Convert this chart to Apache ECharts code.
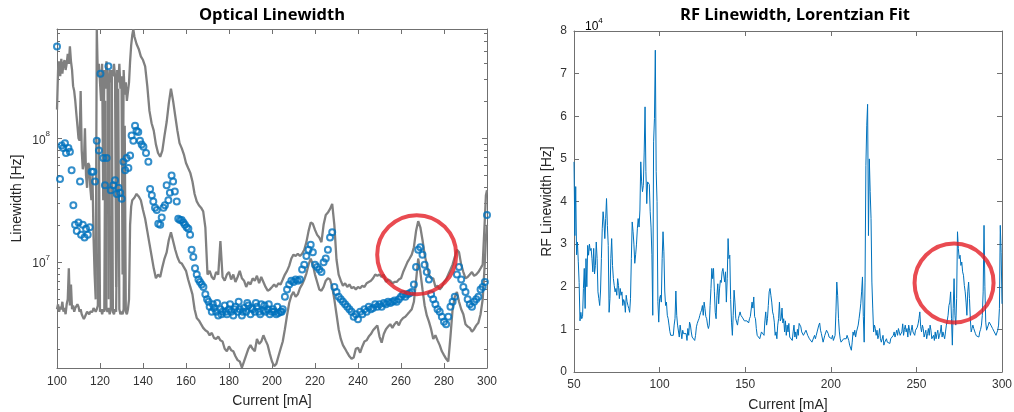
<!DOCTYPE html>
<html>
<head>
<meta charset="utf-8">
<title>Optical and RF Linewidth</title>
<script src="https://cdn.jsdelivr.net/npm/echarts@6/dist/echarts.min.js"></script>
<style>
  html, body { margin: 0; padding: 0; background: #ffffff; }
  #chart { width: 1014px; height: 412px; }
</style>
</head>
<body>
<div id="chart"></div>
<script>
// ---------------------------------------------------------------
// Optical linewidth vs. drive current (Hz, log scale)
// ---------------------------------------------------------------
// Current grid shared by the upper and lower envelope traces (mA)
const boundCurrent = [
  100, 100.5, 101, 101.5, 102, 102.5, 103, 103.5, 104, 104.5,
  105, 105.5, 106, 106.5, 107, 107.5, 108, 108.5, 109, 109.5,
  110, 110.5, 111, 111.5, 112, 112.5, 113, 113.5, 114, 114.5,
  115, 115.5, 116, 116.5, 117, 117.5, 118, 118.5, 119, 119.5,
  120, 120.5, 121, 121.5, 122, 122.5, 123, 123.5, 124, 124.5,
  125, 125.5, 126, 126.5, 127, 127.5, 128, 128.5, 129, 129.5,
  130, 130.5, 131, 131.5, 132, 132.5, 133, 133.5, 134, 134.5,
  135, 135.5, 136,
  137, 138, 139, 140, 141, 142, 143, 144, 145, 146,
  147, 148, 149, 150, 151, 152, 153, 154, 155, 156,
  157, 158, 159, 160, 161, 162, 163, 164, 165, 166,
  167, 168, 169, 170, 171, 172, 173, 174, 175, 176,
  177, 178, 179, 180, 181, 182, 183, 184, 185, 186,
  187, 188, 189, 190, 191, 192, 193, 194, 195, 196,
  197, 198, 199, 200, 201, 202, 203, 204, 205, 206,
  207, 208, 209, 210, 211, 212, 213, 214, 215, 216,
  217, 218, 219, 220, 221, 222, 223, 224, 225, 226,
  227, 228, 229, 230, 231, 232, 233, 234, 235, 236,
  237, 238, 239, 240, 241, 242, 243, 244, 245, 246,
  247, 248, 249, 250, 251, 252, 253, 254, 255, 256,
  257, 258, 259, 260, 261, 262, 263, 264, 265, 266,
  267, 268, 269, 270, 271, 272, 273, 274, 275, 276,
  277, 278, 279, 280, 281, 282, 283, 284, 285, 286,
  287, 288, 289, 290, 291, 292, 293, 294, 295, 296,
  297, 298, 299, 299.5, 300
];

// Upper envelope (Hz)
const upperHz = [
  1.7e8, 3.55e8, 4.17e8, 3.16e8, 4.37e8, 3.31e8, 3.98e8, 4.27e8, 3.55e8, 3.98e8,
  4.79e8, 3.98e8, 5.5e8, 4.17e8, 3.55e8, 2.63e8, 2.4e8, 2.0e8, 1.58e8, 1.26e8,
  1.0e8, 9.55e7, 2.4e8, 7.94e7, 5.62e7, 6.31e7, 1.2e8, 5.01e7, 3.98e7, 6.31e7,
  6.03e7, 3.98e7, 3.16e7, 5.01e7, 1.58e7, 7.94e6, 5.01e6, 7.59e8, 3.16e8, 3.98e8,
  2.82e8, 2.0e8, 3.98e8, 3.16e7, 3.55e8, 2.51e8, 4.17e8, 3.16e8, 5.01e6, 3.55e8,
  2.82e8, 3.55e8, 3.16e8, 3.98e8, 3.16e8, 6.31e6, 3.55e8, 2.82e8, 3.98e8, 2.51e8,
  3.16e8, 7.94e6, 3.55e8, 2.24e8, 2.82e8, 2.0e8, 2.0e8, 2.82e8, 4.17e8, 5.62e8,
  6.76e8, 7.59e8, 6.61e8,
  5.75e8, 5.25e8, 4.57e8, 4.27e8, 3.8e8, 2.63e8, 1.66e8, 1.32e8, 1.15e8, 8.91e7,
  7.59e7, 7.08e7, 7.94e7, 1.05e8, 1.35e8, 1.91e8, 2.51e8, 2.0e8, 1.51e8, 1.15e8,
  9.12e7, 8.32e7, 7.41e7, 6.31e7, 5.75e7, 5.25e7, 4.47e7, 3.55e7, 3.09e7, 2.88e7,
  2.75e7, 2.57e7, 1.91e7, 7.94e6, 8.51e6, 7.59e6, 7.24e6, 8.32e6, 7.94e6, 1.48e7,
  7.59e6, 7.08e6, 7.94e6, 8.32e6, 7.24e6, 7.94e6, 6.92e6, 7.59e6, 8.51e6, 7.41e6,
  7.08e6, 6.31e6, 6.92e6, 6.61e6, 7.41e6, 7.08e6, 7.76e6, 6.76e6, 7.59e6, 6.92e6,
  6.31e6, 5.89e6, 6.03e6, 6.31e6, 6.61e6, 6.31e6, 6.76e6, 6.61e6, 7.24e6, 7.94e6,
  8.51e6, 9.33e6, 1.07e7, 1.15e7, 1.12e7, 1.17e7, 1.12e7, 1.17e7, 1.26e7, 1.45e7,
  1.78e7, 2.09e7, 2.04e7, 1.82e7, 1.66e7, 1.58e7, 1.45e7, 2.0e7, 2.4e7, 2.51e7,
  2.69e7, 2.95e7, 2.0e7, 1.05e7, 7.94e6, 7.08e6, 6.46e6, 6.76e6, 6.31e6, 6.61e6,
  6.17e6, 6.31e6, 6.03e6, 6.31e6, 6.17e6, 6.46e6, 6.31e6, 6.76e6, 6.92e6, 7.08e6,
  7.41e6, 7.94e6, 7.76e6, 7.94e6, 7.59e6, 7.94e6, 6.92e6, 7.24e6, 7.08e6, 6.76e6,
  6.92e6, 6.92e6, 7.24e6, 7.41e6, 8.32e6, 9.12e6, 1.0e7, 1.07e7, 1.15e7, 1.32e7,
  1.78e7, 2.14e7, 1.91e7, 1.51e7, 1.15e7, 9.55e6, 7.94e6, 7.41e6, 7.41e6, 6.31e6,
  6.46e6, 6.03e6, 6.31e6, 6.92e6, 7.24e6, 7.94e6, 8.71e6, 9.55e6, 1.1e7, 1.26e7,
  1.2e7, 9.55e6, 8.32e6, 7.41e6, 7.59e6, 7.94e6, 8.32e6, 7.76e6, 7.94e6, 8.32e6,
  8.91e6, 9.55e6, 2.24e7, 3.47e7, 3.8e7
];

// Lower envelope (Hz)
const lowerHz = [
  4.17e6, 4.57e6, 3.98e6, 4.37e6, 4.17e6, 4.79e6, 3.98e6, 4.27e6, 3.8e6, 4.57e6,
  5.01e6, 8.91e6, 4.47e6, 6.61e6, 4.17e6, 4.47e6, 3.98e6, 4.27e6, 4.17e6, 4.57e6,
  4.37e6, 3.98e6, 4.17e6, 3.8e6, 3.63e6, 3.47e6, 3.63e6, 3.8e6, 3.98e6, 3.89e6,
  3.8e6, 3.98e6, 4.07e6, 3.98e6, 4.27e6, 4.17e6, 3.98e6, 4.17e6, 4.47e6, 1.0e8,
  3.98e6, 4.17e6, 3.8e6, 4.17e6, 3.98e6, 2.0e8, 4.17e6, 3.98e6, 4.27e6, 3.8e6,
  4.17e6, 3.16e8, 3.98e6, 3.8e6, 4.17e6, 3.98e6, 4.07e6, 2.51e8, 4.17e6, 3.8e6,
  3.98e6, 3.8e6, 4.17e6, 1.26e8, 3.98e6, 3.8e6, 4.17e6, 5.01e6, 2.0e7, 2.82e7,
  3.16e7, 3.24e7, 3.31e7,
  3.55e7, 3.39e7, 3.16e7, 2.63e7, 2.24e7, 1.78e7, 1.41e7, 1.12e7, 8.91e6, 7.41e6,
  7.94e6, 7.59e6, 9.12e6, 1.07e7, 1.2e7, 1.51e7, 1.74e7, 1.48e7, 1.26e7, 1.1e7,
  1.0e7, 9.77e6, 9.12e6, 8.51e6, 7.24e6, 6.31e6, 5.5e6, 4.17e6, 3.55e6, 3.39e6,
  3.16e6, 2.95e6, 2.82e6, 2.75e6, 2.57e6, 2.69e6, 2.45e6, 2.4e6, 2.51e6, 2.34e6,
  2.29e6, 2.0e6, 1.91e6, 2.09e6, 1.95e6, 1.91e6, 1.74e6, 1.62e6, 1.58e6, 1.41e6,
  1.58e6, 1.78e6, 2.0e6, 2.14e6, 2.0e6, 1.91e6, 2.4e6, 2.19e6, 2.29e6, 2.57e6,
  2.34e6, 2.14e6, 1.82e6, 1.58e6, 1.45e6, 1.51e6, 1.74e6, 2.0e6, 2.29e6, 2.88e6,
  3.72e6, 4.68e6, 5.37e6, 5.75e6, 5.25e6, 5.5e6, 6.17e6, 6.61e6, 7.24e6, 8.13e6,
  9.55e6, 1.07e7, 9.55e6, 7.94e6, 6.92e6, 6.03e6, 5.89e6, 6.31e6, 7.08e6, 7.41e6,
  7.24e6, 6.31e6, 5.01e6, 3.8e6, 2.88e6, 2.4e6, 2.14e6, 2.0e6, 1.86e6, 1.74e6,
  1.66e6, 1.7e6, 2.0e6, 2.04e6, 1.86e6, 2.09e6, 2.29e6, 2.34e6, 2.51e6, 2.63e6,
  2.82e6, 2.95e6, 3.09e6, 2.51e6, 2.24e6, 2.63e6, 2.88e6, 3.02e6, 3.16e6, 2.95e6,
  3.16e6, 3.31e6, 3.09e6, 3.39e6, 3.55e6, 3.63e6, 3.8e6, 3.98e6, 4.17e6, 4.79e6,
  7.08e6, 1.07e7, 8.32e6, 6.03e6, 4.47e6, 3.72e6, 3.31e6, 2.88e6, 2.4e6, 2.57e6,
  2.34e6, 2.14e6, 1.91e6, 1.78e6, 1.66e6, 1.58e6, 2.51e6, 4.17e6, 5.25e6, 5.75e6,
  4.79e6, 4.17e6, 3.8e6, 3.16e6, 3.02e6, 2.95e6, 2.75e6, 2.88e6, 3.09e6, 3.24e6,
  3.8e6, 5.01e6, 1.0e7, 1.58e7, 2.0e7
];

// Measured optical linewidth: [current mA, linewidth Hz]
const opticalPoints = [
  [100, 5.5e8], [101.4, 4.68e7], [102.2, 8.71e7], [102.9, 8.32e7], [103.7, 9.12e7],
  [104.2, 7.59e7], [105.3, 8.32e7], [106, 7.76e7], [106.8, 5.5e7], [107.6, 2.88e7],
  [108.4, 2.0e7], [109.2, 1.78e7], [110, 2.09e7], [110.7, 4.47e7], [111.2, 1.66e7],
  [112, 2.0e7], [112.8, 1.58e7], [113.5, 1.86e7], [114.3, 1.66e7], [115.2, 1.91e7],
  [116.1, 5.37e7], [116.9, 5.37e7], [117.7, 4.47e7], [118.5, 9.55e7], [119.5, 7.94e7],
  [120.2, 3.31e8], [121.5, 6.92e7], [122.3, 4.17e7], [123.1, 6.92e7], [123.9, 3.8e8],
  [125, 3.8e7], [126.2, 4.17e7], [127, 4.57e7], [127.8, 3.55e7], [128.6, 3.98e7],
  [129.4, 3.63e7], [130.1, 3.24e7], [130.9, 6.46e7], [131.7, 5.5e7], [132.4, 6.92e7],
  [133.2, 5.75e7], [134, 7.24e7], [134.7, 1.05e8], [135.5, 9.55e7], [136.3, 1.26e8],
  [137, 1.15e8], [137.8, 1.12e8], [138.6, 9.55e7], [139.4, 8.91e7], [140.2, 8.51e7],
  [141.4, 7.59e7], [142.5, 6.46e7], [143.3, 3.89e7], [144.1, 3.47e7], [144.8, 3.09e7],
  [145.6, 2.75e7], [146.4, 2.63e7], [147.1, 2.04e7], [148, 2.0e7], [148.7, 2.29e7],
  [149.5, 2.75e7], [150.2, 2.88e7], [151, 4.17e7], [151.8, 3.16e7], [152.5, 3.63e7],
  [153.3, 5.01e7], [154, 4.47e7], [154.8, 3.72e7], [155.7, 3.09e7], [156.4, 2.24e7],
  [157.2, 2.19e7], [158, 2.19e7], [158.8, 2.09e7], [159.5, 2.0e7], [160.3, 1.91e7],
  [161.1, 1.86e7], [161.9, 1.66e7], [162.6, 1.26e7], [163.4, 1.1e7], [164.2, 8.91e6],
  [165, 7.94e6], [165.8, 7.24e6], [166.5, 6.92e6], [167.3, 6.61e6], [168.1, 6.31e6],
  [169, 5.5e6], [169.8, 5.01e6], [170.5, 4.79e6], [171, 4.37e6], [172, 3.98e6],
  [172.5, 4.57e6], [173, 4.27e6], [174, 3.98e6], [174.5, 4.68e6], [175, 3.72e6],
  [176, 4.17e6], [176.5, 3.8e6], [177, 3.98e6], [178, 4.47e6], [178.5, 3.98e6],
  [179, 3.8e6], [180, 4.17e6], [180.5, 4.57e6], [181, 3.98e6], [182, 3.72e6],
  [182.5, 4.17e6], [183, 4.37e6], [184, 3.98e6], [184.5, 4.79e6], [185, 4.17e6],
  [186, 3.72e6], [186.5, 3.98e6], [187, 4.27e6], [188, 3.98e6], [188.5, 4.68e6],
  [189, 4.47e6], [190, 3.8e6], [190.5, 4.27e6], [191, 4.17e6], [192, 3.98e6],
  [192.5, 4.68e6], [193, 4.37e6], [194, 3.98e6], [194.5, 3.8e6], [195, 4.57e6],
  [196, 4.07e6], [196.5, 4.47e6], [197, 3.98e6], [198, 4.17e6], [198.5, 4.57e6],
  [199, 3.8e6], [200, 3.98e6], [200.5, 4.17e6], [201, 3.98e6], [202, 3.8e6],
  [202.5, 4.37e6], [203, 3.89e6], [204, 3.98e6], [204.5, 3.98e6], [205, 4.17e6],
  [206, 5.25e6], [207, 6.03e6], [208, 6.61e6], [209, 7.08e6], [210, 6.92e6],
  [211, 7.24e6], [212, 7.08e6], [213, 7.24e6], [214, 8.71e6], [215, 9.55e6],
  [216, 1.12e7], [217, 1.26e7], [218, 1.38e7], [219, 1.2e7], [220, 9.55e6],
  [221, 9.12e6], [222, 8.71e6], [223, 8.32e6], [224, 1.0e7], [225, 1.07e7],
  [226, 1.26e7], [227, 1.58e7], [228, 1.74e7], [229, 6.31e6], [230, 5.75e6],
  [231, 5.25e6], [232, 5.01e6], [233, 4.79e6], [234, 4.57e6], [235, 4.37e6],
  [236, 4.17e6], [237, 3.98e6], [238, 3.63e6], [239, 3.8e6], [240, 3.47e6],
  [241, 3.98e6], [242, 3.8e6], [243, 4.17e6], [244, 3.98e6], [245, 4.37e6],
  [246, 4.17e6], [247, 4.27e6], [248, 4.57e6], [249, 4.37e6], [250, 4.57e6],
  [251, 4.37e6], [252, 4.68e6], [253, 4.57e6], [254, 4.79e6], [255, 4.68e6],
  [256, 4.79e6], [257, 4.9e6], [258, 4.79e6], [259, 5.01e6], [260, 5.25e6],
  [261, 5.5e6], [262, 5.25e6], [263, 5.5e6], [264, 5.62e6], [265, 5.75e6],
  [266, 6.61e6], [267, 9.12e6], [268, 1.26e7], [269, 1.32e7], [270, 1.15e7],
  [271, 9.55e6], [272, 8.32e6], [273, 7.24e6], [274, 5.5e6], [275, 5.01e6],
  [276, 4.57e6], [277, 4.17e6], [278, 3.98e6], [279, 3.63e6], [280, 3.31e6],
  [281, 3.16e6], [282, 3.63e6], [283, 4.37e6], [284, 4.79e6], [285, 5.25e6],
  [286, 7.94e6], [287, 9.12e6], [288, 7.24e6], [289, 6.31e6], [290, 5.75e6],
  [291, 5.01e6], [292, 4.57e6], [293, 4.37e6], [294, 4.79e6], [295, 5.01e6],
  [296, 5.25e6], [297, 6.03e6], [298, 6.31e6], [299, 6.92e6], [300, 2.4e7]
];

// Log-axis limits and tick values (Hz)
const opticalRange = [1.4e6, 7.6e8];
const opticalMajorTicks = [1e7, 1e8];
const opticalMinorTicks = [
  2e6, 3e6, 4e6, 5e6, 6e6, 7e6, 8e6, 9e6,
  2e7, 3e7, 4e7, 5e7, 6e7, 7e7, 8e7, 9e7,
  2e8, 3e8, 4e8, 5e8, 6e8, 7e8
];

// ---------------------------------------------------------------
// RF linewidth, Lorentzian fit (units of 1e4 Hz), one value per 0.5 mA from 50 mA
// ---------------------------------------------------------------
const rfStartCurrent = 50;
const rfCurrentStep = 0.5;
const rfLinewidth = [
  4.93, 3.2, 4.35, 2.75, 3.05, 2.6, 2.1, 1.2, 1.4, 1.25,
  1.3, 1.96, 2.43, 1.49, 2.66, 2.0, 2.97, 2.74, 3.0, 2.85,
  2.9, 2.66, 2.35, 2.9, 2.3, 2.5, 3.05, 2.66, 1.88, 1.72,
  1.56, 1.9, 2.66, 3.36, 3.76, 3.52, 3.13, 3.6, 4.07, 3.44,
  2.97, 1.4, 1.72, 2.66, 3.13, 2.5, 2.19, 2.03, 1.88, 1.96,
  1.8, 2.19, 2.03, 1.72, 1.96, 1.8, 1.88, 1.56, 1.7, 1.64,
  1.4, 1.8, 1.65, 1.56, 1.49, 1.4, 1.72, 2.66, 3.52, 3.29,
  3.0, 2.55, 2.75, 3.0, 3.36, 3.6, 3.4, 3.8, 4.93, 4.46,
  4.23, 4.38, 5.16, 6.22, 4.7, 3.95, 4.46, 4.5, 4.4, 3.76,
  3.4, 2.75, 1.33, 5.4, 5.95, 7.55, 4.7, 4.0, 1.65, 1.17,
  1.72, 1.8, 1.64, 2.66, 3.29, 2.82, 1.9, 1.56, 1.64, 1.33,
  1.25, 1.1, 0.95, 0.86, 0.82, 0.85, 0.86, 1.1, 1.25, 1.9,
  1.33, 1.1, 1.14, 0.82, 1.1, 1.06, 0.78, 0.98, 0.9, 0.88,
  0.86, 0.9, 0.74, 1.02, 0.86, 1.17, 1.1, 0.94, 0.82, 0.78,
  0.8, 0.74, 0.86, 1.06, 1.14, 1.2, 1.25, 1.33, 1.4, 1.45,
  1.56, 1.33, 1.64, 1.49, 1.3, 1.25, 1.1, 1.02, 1.1, 1.56,
  1.96, 2.43, 2.19, 2.43, 1.88, 1.4, 1.25, 1.8, 2.07, 1.6,
  1.95, 2.15, 2.1, 2.35, 2.43, 2.39, 2.11, 2.35, 1.64, 2.19,
  3.13, 2.66, 2.74, 1.7, 1.17, 0.86, 1.33, 1.92, 1.64, 1.25,
  1.17, 1.1, 1.25, 1.33, 1.41, 1.33, 1.29, 1.27, 1.25, 1.2,
  1.17, 1.21, 1.2, 1.17, 1.15, 1.25, 1.3, 1.33, 1.64, 1.5,
  1.76, 1.3, 1.25, 1.02, 0.86, 0.82, 0.86, 0.78, 0.74, 0.94,
  0.94, 0.98, 0.86, 1.2, 1.41, 1.1, 1.25, 1.56, 1.88, 1.96,
  1.8, 1.64, 1.41, 1.33, 1.17, 0.86, 0.94, 0.78, 1.1, 1.25,
  1.64, 1.2, 1.25, 1.5, 1.15, 1.25, 0.94, 1.2, 0.86, 1.1,
  0.94, 1.14, 0.82, 0.78, 0.86, 0.74, 0.94, 1.1, 0.82, 0.94,
  0.78, 1.0, 0.86, 1.14, 1.17, 1.06, 0.94, 0.94, 0.86, 0.88,
  0.9, 0.98, 1.02, 0.86, 0.86, 0.78, 0.8, 0.74, 0.7, 0.74,
  0.74, 0.86, 0.78, 0.86, 0.94, 0.94, 1.1, 1.15, 0.98, 0.9,
  0.86, 0.7, 0.74, 0.86, 0.82, 0.98, 1.02, 0.9, 0.82, 0.86,
  0.86, 0.78, 0.86, 0.74, 0.78, 0.86, 1.41, 2.11, 1.8, 1.25,
  0.94, 0.78, 0.7, 0.74, 0.7, 0.78, 0.76, 0.74, 0.78, 0.86,
  0.86, 0.74, 0.63, 0.6, 0.51, 0.7, 0.94, 0.86, 0.98, 0.82,
  0.94, 0.94, 1.1, 1.25, 1.41, 1.6, 1.88, 2.23, 1.3, 0.7,
  2.11, 4.85, 5.79, 6.28, 3.2, 5.0, 4.23, 3.6, 2.11, 1.5,
  0.94, 1.1, 1.02, 0.86, 0.98, 0.78, 0.86, 1.02, 0.78, 0.7,
  0.7, 0.86, 0.63, 0.7, 0.67, 0.78, 0.7, 0.74, 0.74, 0.67,
  0.78, 0.82, 0.74, 0.86, 0.94, 0.82, 0.9, 0.98, 0.86, 1.02,
  0.94, 0.86, 0.9, 0.94, 1.13, 0.86, 1.0, 1.1, 0.94, 1.02,
  0.82, 1.1, 0.98, 0.86, 0.98, 1.1, 0.94, 0.9, 0.86, 0.98,
  1.02, 1.05, 1.13, 1.25, 1.41, 1.06, 0.94, 1.1, 1.02, 0.82,
  0.9, 0.98, 0.78, 0.9, 1.02, 0.86, 1.1, 0.98, 0.78, 0.82,
  0.86, 0.74, 0.94, 0.78, 0.9, 0.98, 0.78, 0.86, 0.94, 1.1,
  0.82, 0.94, 0.9, 0.78, 0.94, 1.1, 1.2, 1.33, 1.56, 1.64,
  1.88, 1.25, 0.63, 1.49, 2.19, 1.33, 1.1, 1.72, 3.29, 2.9,
  2.66, 2.74, 2.5, 2.58, 2.35, 2.27, 2.03, 1.88, 1.64, 1.33,
  1.88, 2.11, 1.72, 1.25, 0.94, 1.02, 1.1, 1.02, 1.0, 0.9,
  0.85, 0.82, 0.86, 0.82, 0.94, 1.0, 1.1, 1.33, 1.88, 3.44,
  2.0, 1.17, 0.98, 0.94, 1.1, 1.17, 1.13, 1.1, 1.06, 1.02,
  1.02, 0.94, 0.9, 0.86, 0.82, 0.98, 1.1, 1.49, 3.44, 2.8,
  1.6
];

// Highlighted regions (ring annotations), in data units
const opticalHighlight = [267.3, 1.15e7];
const rfHighlight = [272.0, 2.09];

// ---------------------------------------------------------------
// Styling
// ---------------------------------------------------------------
const FONT = '"Liberation Sans", Arial, Helvetica, sans-serif';
const TITLE_FONT = '"Open Sans", "Noto Sans", sans-serif';
const AXIS_COLOR = '#707070';
const TEXT_COLOR = '#333333';
const NAME_COLOR = '#262626';
const BLUE = '#0072BD';
const GRAY = '#808080';
const RED = '#E41E26';

const opticalGrid = { left: 57, top: 29, width: 430, height: 339, outerBoundsMode: 'none' };
const rfGrid = { left: 574, top: 31, width: 428, height: 341, outerBoundsMode: 'none' };

const powerRich = {
  base: { fontSize: 12, fontFamily: FONT, color: TEXT_COLOR, lineHeight: 16, verticalAlign: 'bottom' },
  exp: { fontSize: 8, fontFamily: FONT, color: TEXT_COLOR, lineHeight: 10, verticalAlign: 'top' }
};

function powerOfTen(value) {
  const exponent = Math.round(Math.log10(value));
  return '{base|10}{exp|' + exponent + '}';
}

function frameLine(show) {
  return { show: show, onZero: false, lineStyle: { color: AXIS_COLOR, width: 1 } };
}

function insideTicks(length, customValues) {
  const tick = { show: true, inside: true, length: length, lineStyle: { color: AXIS_COLOR, width: 1 } };
  if (customValues) tick.customValues = customValues;
  return tick;
}

function currentAxes(gridIndex, min, max, interval, labelMargin) {
  const common = { type: 'value', gridIndex: gridIndex, min: min, max: max, interval: interval,
    axisLine: frameLine(true), axisTick: insideTicks(5), splitLine: { show: false } };
  return [
    Object.assign({}, common, {
      position: 'bottom',
      axisLabel: { show: true, margin: labelMargin, color: TEXT_COLOR, fontSize: 12, fontFamily: FONT },
      name: 'Current [mA]', nameLocation: 'middle', nameGap: 26,
      nameTextStyle: { color: NAME_COLOR, fontSize: 14, fontFamily: FONT }
    }),
    Object.assign({}, common, { position: 'top', axisLabel: { show: false } })
  ];
}

const opticalYCommon = { type: 'log', logBase: 10, gridIndex: 0,
  min: opticalRange[0], max: opticalRange[1], splitLine: { show: false } };

const yAxes = [
  Object.assign({}, opticalYCommon, {
    position: 'left', axisLine: frameLine(true), axisTick: insideTicks(5, opticalMajorTicks),
    axisLabel: { show: true, margin: 7, customValues: opticalMajorTicks, formatter: powerOfTen, rich: powerRich },
    name: 'Linewidth [Hz]', nameLocation: 'middle', nameGap: 33, nameRotate: 90,
    nameTextStyle: { color: NAME_COLOR, fontSize: 14, fontFamily: FONT }
  }),
  Object.assign({}, opticalYCommon, {
    position: 'right', axisLine: frameLine(true), axisTick: insideTicks(5, opticalMajorTicks),
    axisLabel: { show: false }
  }),
  Object.assign({}, opticalYCommon, {
    position: 'left', axisLine: frameLine(false), axisTick: insideTicks(3, opticalMinorTicks),
    axisLabel: { show: false }
  }),
  Object.assign({}, opticalYCommon, {
    position: 'right', axisLine: frameLine(false), axisTick: insideTicks(3, opticalMinorTicks),
    axisLabel: { show: false }
  }),
  {
    type: 'value', gridIndex: 1, position: 'left', min: 0, max: 8, interval: 1,
    axisLine: frameLine(true), axisTick: insideTicks(5), splitLine: { show: false },
    axisLabel: { show: true, margin: 7, color: TEXT_COLOR, fontSize: 12, fontFamily: FONT },
    name: 'RF Linewidth [Hz]', nameLocation: 'middle', nameGap: 20, nameRotate: 90,
    nameTextStyle: { color: NAME_COLOR, fontSize: 14, fontFamily: FONT }
  },
  {
    type: 'value', gridIndex: 1, position: 'right', min: 0, max: 8, interval: 1,
    axisLine: frameLine(true), axisTick: insideTicks(5), splitLine: { show: false },
    axisLabel: { show: false }
  }
];

const xAxes = currentAxes(0, 100, 300, 20, 8).concat(currentAxes(1, 50, 300, 50, 7));

// Data pairs for the series
const upperSeries = boundCurrent.map((c, i) => [c, upperHz[i]]);
const lowerSeries = boundCurrent.map((c, i) => [c, lowerHz[i]]);
const rfSeries = rfLinewidth.map((v, i) => [rfStartCurrent + i * rfCurrentStep, v]);

const ring = (xAxisIndex, yAxisIndex, point) => ({
  type: 'scatter', xAxisIndex: xAxisIndex, yAxisIndex: yAxisIndex, data: [point],
  symbol: 'circle', symbolSize: 79, silent: true, z: 10, clip: false,
  itemStyle: { color: 'rgba(0,0,0,0)', borderColor: RED, borderWidth: 4 },
  emphasis: { disabled: true }
});

const option = {
  animation: false,
  backgroundColor: '#ffffff',
  grid: [opticalGrid, rfGrid],
  xAxis: xAxes,
  yAxis: yAxes,
  graphic: [
    { type: 'text', x: opticalGrid.left + opticalGrid.width / 2, y: 15,
      style: { text: 'Optical Linewidth', fill: '#000', font: 'bold 16.5px ' + TITLE_FONT,
        textAlign: 'center', textVerticalAlign: 'middle' } },
    { type: 'text', x: 795, y: 15,
      style: { text: 'RF Linewidth, Lorentzian Fit', fill: '#000', font: 'bold 16.5px ' + TITLE_FONT,
        textAlign: 'center', textVerticalAlign: 'middle' } },
    { type: 'text', x: 585, y: 17,
      style: { text: '{base|10}{exp|4}', rich: powerRich, textAlign: 'left', textVerticalAlign: 'top' } }
  ],
  series: [
    { name: 'Upper bound', type: 'line', xAxisIndex: 0, yAxisIndex: 0, data: upperSeries,
      symbol: 'none', lineStyle: { color: GRAY, width: 2.3 }, z: 2, emphasis: { disabled: true } },
    { name: 'Lower bound', type: 'line', xAxisIndex: 0, yAxisIndex: 0, data: lowerSeries,
      symbol: 'none', lineStyle: { color: GRAY, width: 2.3 }, z: 2, emphasis: { disabled: true } },
    { name: 'Optical linewidth', type: 'scatter', xAxisIndex: 0, yAxisIndex: 0, data: opticalPoints,
      symbol: 'circle', symbolSize: 6, z: 3,
      itemStyle: { color: 'rgba(0,0,0,0)', borderColor: BLUE, borderWidth: 2 },
      emphasis: { disabled: true } },
    ring(0, 0, opticalHighlight),
    { name: 'RF linewidth', type: 'line', xAxisIndex: 2, yAxisIndex: 4, data: rfSeries,
      symbol: 'none', lineStyle: { color: BLUE, width: 1 }, z: 2, emphasis: { disabled: true } },
    ring(2, 4, rfHighlight)
  ]
};

const chart = echarts.init(document.getElementById('chart'), null, { renderer: 'canvas' });
chart.setOption(option);
</script>
</body>
</html>
